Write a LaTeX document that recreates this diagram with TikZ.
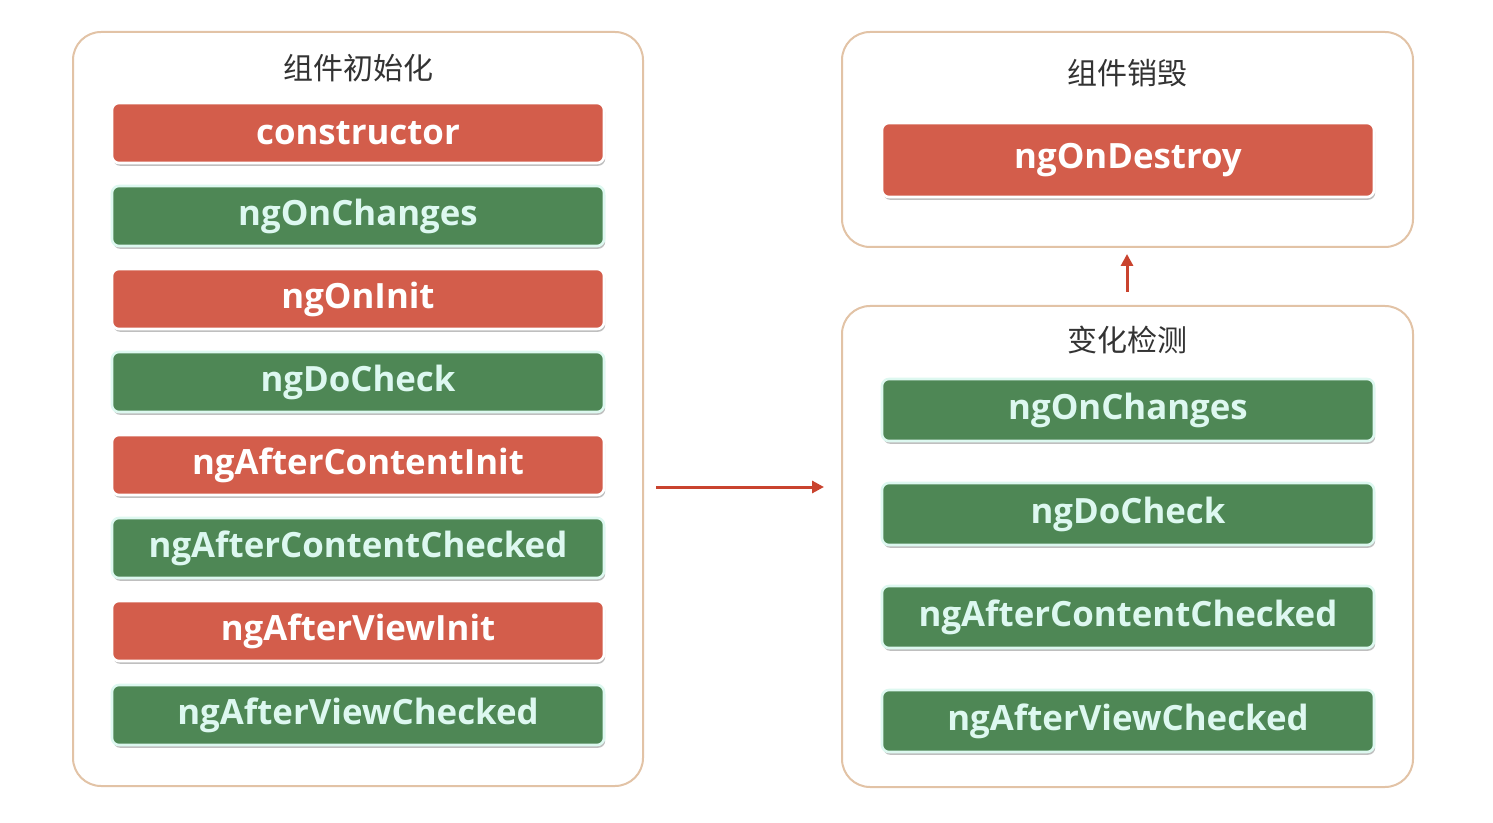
\documentclass[tikz,border=0pt]{standalone}
\usepackage{fontspec}
\setmainfont{Open Sans}
\newfontfamily\cjk{Noto Sans CJK SC}
\usetikzlibrary{shadows,arrows.meta}
\definecolor{redbox}{HTML}{D35D4B}
\definecolor{greenbox}{HTML}{4E8755}
\definecolor{greentext}{HTML}{DDF8F0}
\definecolor{framecol}{HTML}{E2C3A6}
\definecolor{arrowcol}{HTML}{C9432E}
\definecolor{titlecol}{HTML}{333333}
\tikzset{
  frame/.style={draw=framecol, line width=1pt, rounded corners=14pt, fill=white},
  hookbox/.style={rounded corners=3.5pt, minimum height=30pt, minimum width=246pt,
     font=\bfseries\fontsize{17.4}{19}\selectfont, line width=1.3pt,
     drop shadow={shadow xshift=0.6pt, shadow yshift=-1.4pt, opacity=0.25, fill=black}},
  redhook/.style={hookbox, fill=redbox, draw=white, text=white},
  greenhook/.style={hookbox, fill=greenbox, draw=greentext, text=greentext},
  title/.style={font=\cjk\fontsize{15}{17}\selectfont, text=titlecol},
  flow/.style={draw=arrowcol, line width=1.5pt, -{Triangle[length=6pt,width=6pt]}}
}
\begin{document}
\begin{tikzpicture}[x=0.5pt,y=-0.5pt]
\useasboundingbox (0,0) rectangle (1493,823);
% frames
\draw[frame] (73,32) rectangle (643,786);
\draw[frame] (842,32) rectangle (1413,247);
\draw[frame] (842,306) rectangle (1413,787);
% titles
\node[title] (t1) at (358,68) {组件初始化};
\node[title] (t2) at (1127,73) {组件销毁};
\node[title] (t3) at (1127,340) {变化检测};
% left column
\node[redhook] (c1) at (358,133) {constructor};
\node[greenhook] (c2) at (358,216) {ngOnChanges};
\node[redhook] (c3) at (358,299) {ngOnInit};
\node[greenhook] (c4) at (358,382) {ngDoCheck};
\node[redhook] (c5) at (358,465) {ngAfterContentInit};
\node[greenhook] (c6) at (358,548) {ngAfterContentChecked};
\node[redhook] (c7) at (358,631) {ngAfterViewInit};
\node[greenhook] (c8) at (358,715) {ngAfterViewChecked};
% destroy
\node[redhook, minimum height=37pt] (d1) at (1128,160) {ngOnDestroy};
% change detection
\node[greenhook, minimum height=31pt] (g1) at (1128,410) {ngOnChanges};
\node[greenhook, minimum height=31pt] (g2) at (1128,514) {ngDoCheck};
\node[greenhook, minimum height=31pt] (g3) at (1128,617) {ngAfterContentChecked};
\node[greenhook, minimum height=31pt] (g4) at (1128,721) {ngAfterViewChecked};
% arrows
\coordinate (a1) at (656,487);
\coordinate (a2) at (824,487);
\coordinate (b1) at (1127,292);
\coordinate (b2) at (1127,254);
\draw[flow] (a1) -- (a2);
\draw[flow] (b1) -- (b2);
\end{tikzpicture}
\end{document}
